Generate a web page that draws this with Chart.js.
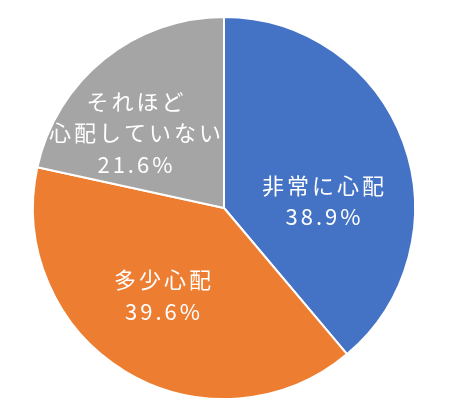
<!DOCTYPE html>
<html>
<head>
<meta charset="utf-8">
<script src="https://cdn.jsdelivr.net/npm/chart.js@4"></script>
<style>
  html, body { margin: 0; padding: 0; background: #fff; }
  #wrap { width: 450px; height: 410px; }
</style>
</head>
<body>
<div id="wrap"><canvas id="worryPie"></canvas></div>
<script>
// data
const categories = ["非常に心配", "多少心配", "それほど心配していない"];
const labelLines = [["非常に心配"], ["多少心配"], ["それほど", "心配していない"]];
const shares = [38.9, 39.6, 21.6];
const sliceColors = ["#4472C4", "#ED7D31", "#A5A5A5"];

// label placement inside each slice (angle nudge in degrees, fraction of radius)
const labelNudge = [16, 4, -11];
const labelRadius = [0.52, 0.56, 0.61];

const sliceLabels = {
    id: "sliceLabels",
    afterDatasetsDraw(chart) {
        const ctx = chart.ctx;
        const meta = chart.getDatasetMeta(0);
        ctx.save();
        ctx.fillStyle = "#fff";
        ctx.font = '22px "Noto Sans CJK JP", "Noto Sans", sans-serif';
        ctx.textAlign = "center";
        ctx.textBaseline = "middle";
        ctx.letterSpacing = "3px";
        meta.data.forEach((arc, i) => {
            const p = arc.getProps(["x", "y", "startAngle", "endAngle", "outerRadius"], true);
            const mid = (p.startAngle + p.endAngle) / 2 + labelNudge[i] * Math.PI / 180;
            const r = p.outerRadius * labelRadius[i];
            const cx = p.x + Math.cos(mid) * r;
            const cy = p.y + Math.sin(mid) * r;
            const lines = labelLines[i].concat([shares[i].toFixed(1) + "%"]);
            const lh = 31.5;
            const top = cy - (lines.length - 1) * lh / 2;
            lines.forEach((t, k) => {
                ctx.fillText(t, cx + 1.5, top + k * lh);
            });
        });
        ctx.restore();
    }
};

new Chart(document.getElementById("worryPie"), {
    type: "pie",
    data: {
        labels: categories,
        datasets: [
            {
                data: shares,
                backgroundColor: sliceColors,
                borderColor: "#fff",
                borderWidth: 2,
            },
        ],
    },
    options: {
        responsive: true,
        maintainAspectRatio: false,
        animation: false,
        layout: {
            padding: { top: 16, bottom: 10, left: 0, right: 2 },
        },
        plugins: {
            legend: { display: false },
            tooltip: { enabled: false },
        },
    },
    plugins: [sliceLabels],
});
</script>
</body>
</html>
